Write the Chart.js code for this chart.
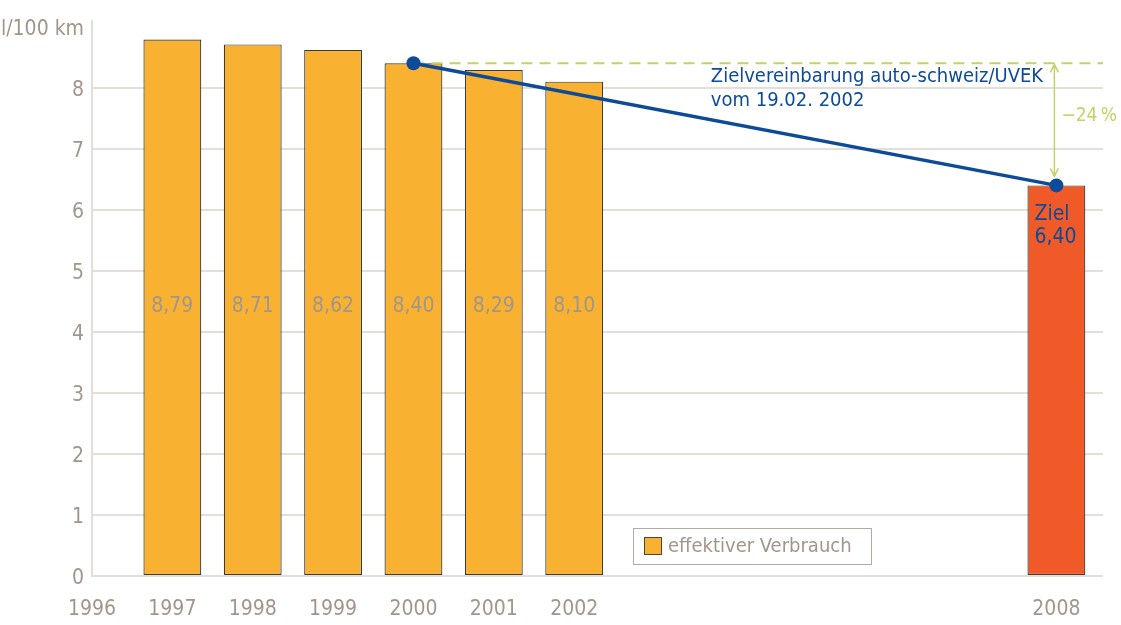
<!DOCTYPE html>
<html>
<head>
<meta charset="utf-8">
<script src="https://cdn.jsdelivr.net/npm/chart.js@4.4.1/dist/chart.umd.min.js"></script>
<style>
  html, body { margin: 0; padding: 0; background: #fff; }
</style>
</head>
<body>
<canvas id="chart" width="1121" height="625"></canvas>
<script>
// Daten
const years = [1997, 1998, 1999, 2000, 2001, 2002, 2008];
const verbrauch = [8.79, 8.71, 8.62, 8.40, 8.29, 8.10, 6.40];
const barTexts = ['8,79', '8,71', '8,62', '8,40', '8,29', '8,10', ''];
const zielYears = [2000, 2008];
const zielValues = [8.40, 6.40];
const xTickYears = [1996, 1997, 1998, 1999, 2000, 2001, 2002, 2008];
const yTickValues = [0, 1, 2, 3, 4, 5, 6, 7, 8, 9];
const yUnit = 'l/100 km';
const legendText = 'effektiver Verbrauch';
const zielText = ['Zielvereinbarung auto-schweiz/UVEK', 'vom 19.02. 2002'];
const zielLabel = ['Ziel', '6,40'];
const reduktion = '\u221224\u2009%';

const FONT = '"DejaVu Sans Condensed", "Liberation Sans Narrow", "Open Sans", sans-serif';
const GREY = '#a1968b';
const GRID = '#e2dfdb';
const BLUE = '#0d4a97';
const GREEN = '#c6d160';
const ORANGE = '#f9b132';
const RED = '#f05a28';
const X_MAX = 2008.58;

const barColors = years.map(y => (y === 2008 ? RED : ORANGE));

// Texte, Pfeil und Legende ueber die Balken zeichnen
const overlay = {
  id: 'overlay',
  afterDatasetsDraw(chart) {
    const { ctx, scales: { x, y }, chartArea } = chart;
    const bars = chart.getDatasetMeta(0).data;
    ctx.save();

    // Werte in den Balken
    ctx.font = `21px ${FONT}`;
    ctx.fillStyle = GREY;
    ctx.textAlign = 'center';
    ctx.textBaseline = 'middle';
    const labelY = y.getPixelForValue(4.42);
    bars.forEach((b, i) => {
      if (barTexts[i]) ctx.fillText(barTexts[i], b.x, labelY);
    });

    // Ziel 6,40
    const last = bars[bars.length - 1];
    ctx.fillStyle = BLUE;
    ctx.textAlign = 'left';
    ctx.fillText(zielLabel[0], last.x - last.width / 2 + 7, last.y + 29);
    ctx.fillText(zielLabel[1], last.x - last.width / 2 + 7, last.y + 52);

    // Zielvereinbarung, unter der gestrichelten Linie
    ctx.font = `20px ${FONT}`;
    const tx = x.getPixelForValue(2003.7);
    const ty = y.getPixelForValue(zielValues[0]) + 13;
    ctx.fillText(zielText[0], tx, ty);
    ctx.fillText(zielText[1], tx, ty + 24);

    // Doppelpfeil -24 %
    const ax = x.getPixelForValue(2008) - 2;
    const top = y.getPixelForValue(zielValues[0]) + 1;
    const bottom = y.getPixelForValue(zielValues[1]) - 9;
    ctx.strokeStyle = GREEN;
    ctx.lineWidth = 1.5;
    ctx.beginPath();
    ctx.moveTo(ax, top);
    ctx.lineTo(ax, bottom);
    ctx.moveTo(ax - 4, top + 8); ctx.lineTo(ax, top); ctx.lineTo(ax + 4, top + 8);
    ctx.moveTo(ax - 4, bottom - 8); ctx.lineTo(ax, bottom); ctx.lineTo(ax + 4, bottom - 8);
    ctx.stroke();
    ctx.fillStyle = GREEN;
    ctx.font = `19px ${FONT}`;
    ctx.fillText(reduktion, ax + 7, (top + bottom) / 2 - 4);

    // Legende
    const lx = chartArea.left + 541, ly = chartArea.bottom - 48;
    ctx.fillStyle = '#fff';
    ctx.fillRect(lx, ly, 238, 36);
    ctx.strokeStyle = '#b3aba2';
    ctx.lineWidth = 1;
    ctx.strokeRect(lx + 0.5, ly + 0.5, 238, 36);
    ctx.fillStyle = ORANGE;
    ctx.fillRect(lx + 11.5, ly + 9.5, 17, 17);
    ctx.strokeStyle = '#4a4440';
    ctx.strokeRect(lx + 11.5, ly + 9.5, 17, 17);
    ctx.fillStyle = GREY;
    ctx.font = `20px ${FONT}`;
    ctx.fillText(legendText, lx + 35, ly + 19);

    ctx.restore();
  }
};

new Chart(document.getElementById('chart'), {
  data: {
    datasets: [
      {
        type: 'bar',
        label: legendText,
        data: years.map((yr, i) => ({ x: yr, y: verbrauch[i] })),
        backgroundColor: barColors,
        borderColor: '#3d3935',
        borderWidth: 1.2,
        borderSkipped: false,
        barPercentage: 0.72,
        categoryPercentage: 1,
        order: 3
      },
      {
        type: 'line',
        data: [{ x: zielYears[0], y: zielValues[0] }, { x: X_MAX, y: zielValues[0] }],
        borderColor: GREEN,
        borderWidth: 2,
        borderDash: [11, 7],
        pointRadius: 0,
        order: 2
      },
      {
        type: 'line',
        data: zielYears.map((yr, i) => ({ x: yr, y: zielValues[i] })),
        borderColor: BLUE,
        borderWidth: 3.5,
        pointRadius: 7,
        pointBackgroundColor: BLUE,
        pointBorderWidth: 0,
        order: 1
      }
    ]
  },
  options: {
    responsive: false,
    animation: false,
    layout: { padding: { top: 10, right: 18, left: 0, bottom: 0 } },
    plugins: {
      legend: { display: false },
      tooltip: { enabled: false }
    },
    scales: {
      x: {
        type: 'linear',
        offset: false,
        min: 1996,
        max: X_MAX,
        grid: { display: false, drawTicks: false },
        border: { display: false },
        afterBuildTicks: s => { s.ticks = xTickYears.map(v => ({ value: v })); },
        afterFit: s => { s.height = 49; },
        ticks: {
          color: GREY,
          font: { family: FONT, size: 21 },
          padding: 21,
          callback: v => String(v)
        }
      },
      y: {
        min: 0,
        max: 9.1,
        grid: {
          drawTicks: false,
          lineWidth: 2,
          color: c => (c.tick && c.tick.value === 9 ? 'rgba(0,0,0,0)' : GRID)
        },
        border: { color: GRID, width: 2 },
        afterBuildTicks: s => { s.ticks = yTickValues.map(v => ({ value: v })); },
        afterFit: s => { s.width = 92; },
        ticks: {
          color: GREY,
          font: { family: FONT, size: 21 },
          padding: 8,
          labelOffset: 3,
          callback: v => (v === 9 ? yUnit : v)
        }
      }
    }
  },
  plugins: [overlay]
});
</script>
</body>
</html>
